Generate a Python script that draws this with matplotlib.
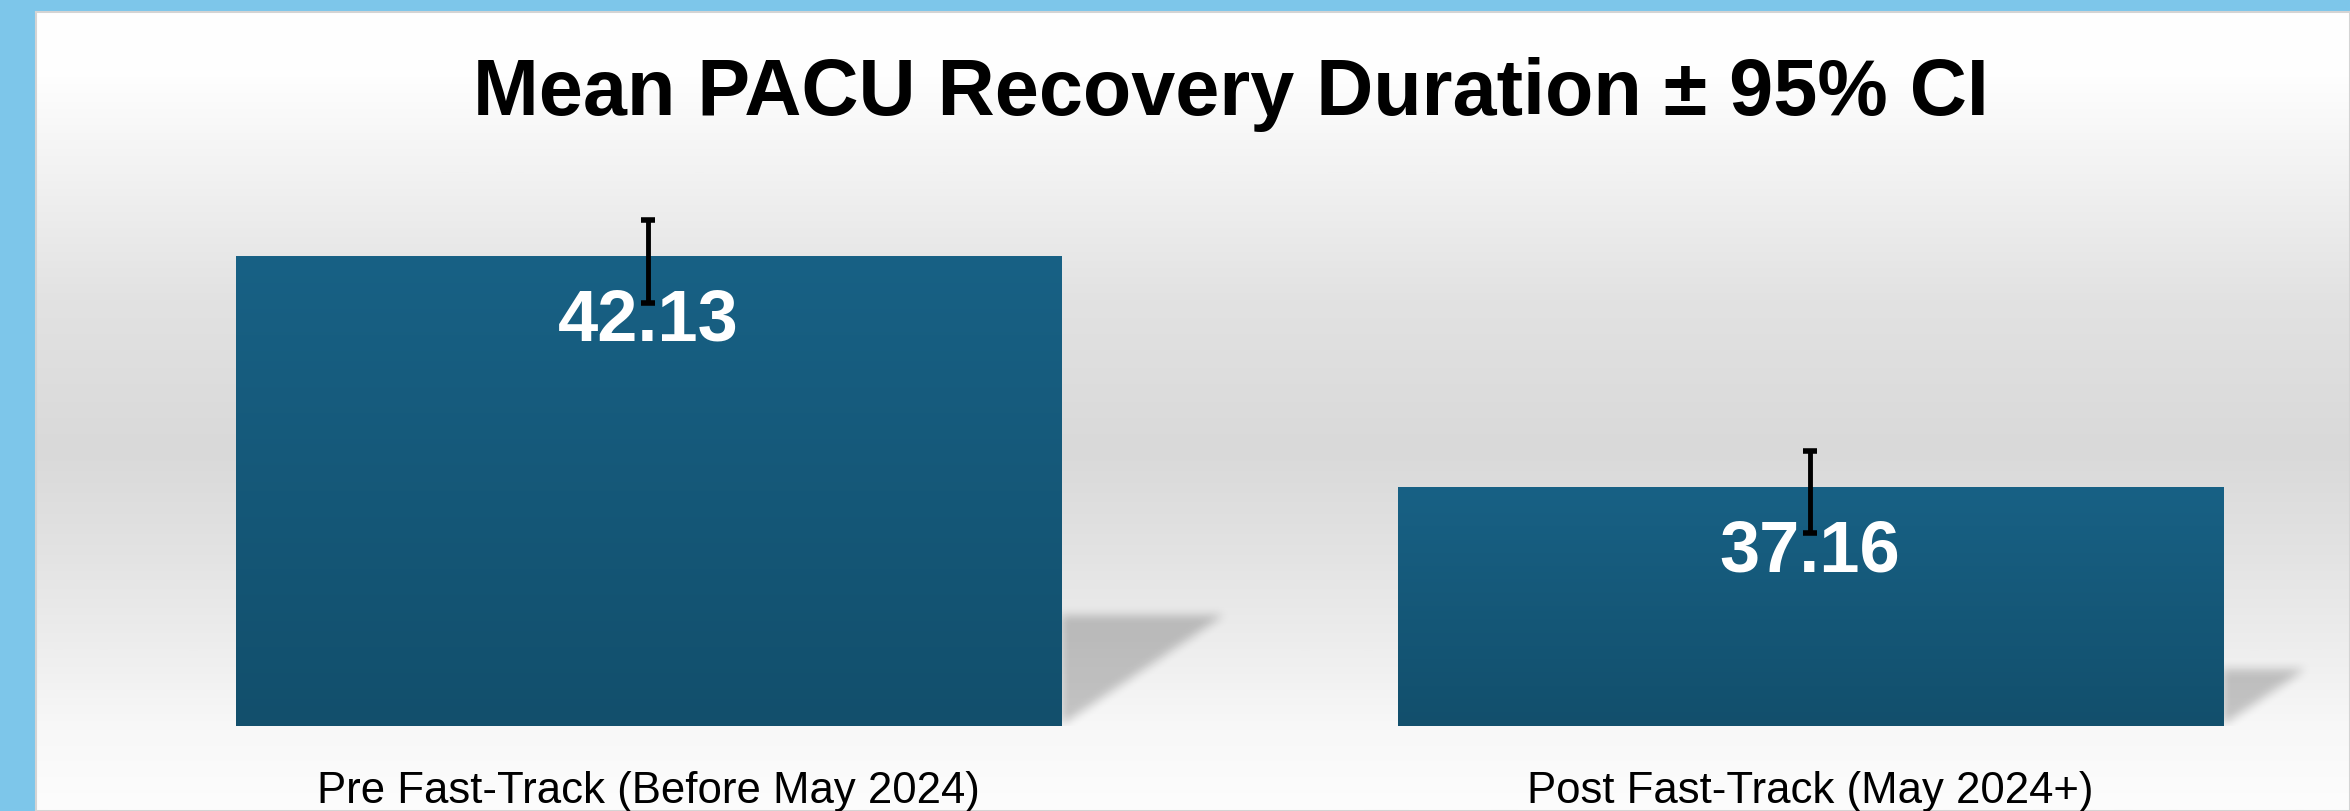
import numpy as np
import matplotlib
matplotlib.use('Agg')
import matplotlib.pyplot as plt
import matplotlib.transforms as transforms
from matplotlib.colors import LinearSegmentedColormap

# Data
groups = ['Pre Fast-Track (Before May 2024)', 'Post Fast-Track (May 2024+)']
means = [42.13, 37.16]
ci_below = [1.00, 1.00]
ci_above = [0.78, 0.78]
y_floor = 32.0
y_top = 45.5

title = 'Mean PACU Recovery Duration \u00b1 95% CI'

plt.rcParams['font.family'] = ['Liberation Sans', 'DejaVu Sans']

W, H = 2350, 811
BAR_W = 0.71
XLIM = (-0.5577, 1.4647)

fig = plt.figure(figsize=(W / 100, H / 100), dpi=100, facecolor='#7dc6ea')

# grey gradient panel inside the blue frame
bg = fig.add_axes([36 / W, 0, 1 - 36 / W, 1 - 12 / H])
bg_cmap = LinearSegmentedColormap.from_list('bg', [
    (0.0, '#ffffff'), (0.08, '#fefefe'), (0.24, '#eeeeee'), (0.36, '#e2e2e2'),
    (0.55, '#d9d9d9'), (0.68, '#e3e3e3'), (0.80, '#eeeeee'), (0.90, '#f8f8f8'),
    (1.0, '#fdfdfd')])
bg.imshow(np.linspace(0, 1, 512).reshape(-1, 1), aspect='auto', cmap=bg_cmap,
          extent=(0, 1, 0, 1), origin='upper')
bg.set_xticks([])
bg.set_yticks([])
for s in bg.spines.values():
    s.set_color('#d4d4d4')
    s.set_linewidth(1.5)

# main axes
ax = fig.add_axes([0, 85 / H, 1, 626 / H])
ax.patch.set_alpha(0)
x = np.arange(len(groups))

# blurred floor shadows behind each bar
xs = np.linspace(XLIM[0], XLIM[1], W)
ys = np.linspace(y_floor, y_top, 626)
X, Y = np.meshgrid(xs, ys)
mask = np.zeros_like(X)
for xi, m in zip(x, means):
    h = m - y_floor
    xr = xi + BAR_W / 2
    top = y_floor + 0.236 * h
    reach = 0.0139 * h
    inside = (X >= xr) & (Y <= top) & (Y >= y_floor) & \
        ((X - xr) / reach <= (Y - y_floor) / (top - y_floor))
    mask[inside] = 1.0


def box_blur(a, r):
    k = np.ones(2 * r + 1) / (2 * r + 1)
    a = np.apply_along_axis(lambda v: np.convolve(v, k, mode='same'), 0, a)
    a = np.apply_along_axis(lambda v: np.convolve(v, k, mode='same'), 1, a)
    return a


mask = box_blur(box_blur(mask, 5), 5)
shadow = np.zeros(mask.shape + (4,))
shadow[..., 3] = mask * 0.21
ax.imshow(shadow, extent=(XLIM[0], XLIM[1], y_floor, y_top), origin='lower',
          aspect='auto', zorder=2, interpolation='bilinear')

# bars with vertical gradient
bars = ax.bar(x, [m - y_floor for m in means], bottom=y_floor, width=BAR_W,
              color='#165b7c', zorder=3)
bar_cmap = LinearSegmentedColormap.from_list('bar', ['#186185', '#124f6c'])
for b in bars:
    x0, y0 = b.get_x(), b.get_y()
    im = ax.imshow(np.linspace(0, 1, 256).reshape(-1, 1), cmap=bar_cmap, aspect='auto',
                   extent=(x0, x0 + b.get_width(), y0, y0 + b.get_height()),
                   origin='upper', zorder=3.1)
    im.set_clip_path(b)

# value labels
for xi, m in zip(x, means):
    ax.annotate(f'{m:.2f}', (xi, m), xytext=(0, -47), textcoords='offset points',
                ha='center', va='center', color='white', fontsize=52,
                fontweight='bold', zorder=4)

# confidence intervals
ax.errorbar(x, means, yerr=[ci_below, ci_above], fmt='none', ecolor='black',
            elinewidth=3.5, capsize=5, capthick=4, zorder=5)

ax.set_xlim(*XLIM)
ax.set_ylim(y_floor, y_top)
ax.axis('off')

# category labels under the bars
trans = transforms.blended_transform_factory(ax.transData, fig.transFigure)
for xi, g in zip(x, groups):
    ax.text(xi, 8 / H, g, transform=trans, ha='center', va='baseline',
            fontsize=31.5, color='black')

fig.text(1231 / W, 1 - 115 / H, title, ha='center', va='baseline',
         fontsize=57, fontweight='bold', color='black')

fig.savefig('out.png', dpi=100, facecolor=fig.get_facecolor())
